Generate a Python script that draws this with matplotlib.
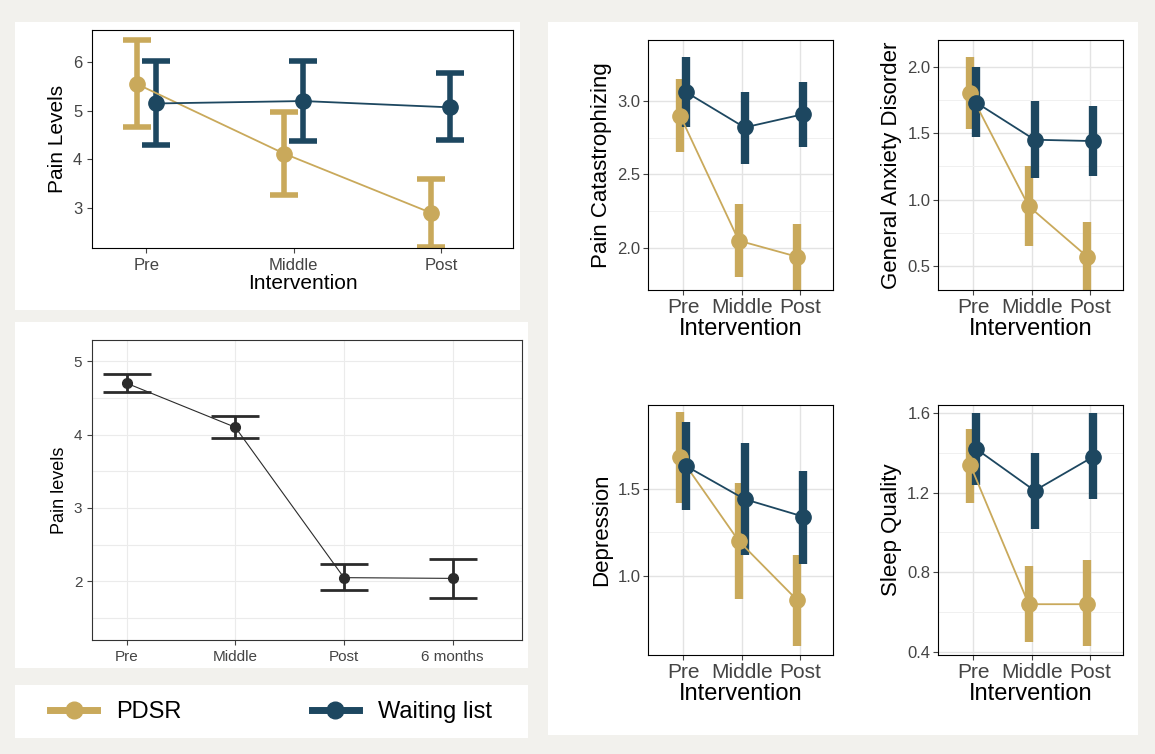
import matplotlib.pyplot as plt
from matplotlib.patches import Rectangle
from matplotlib.lines import Line2D

plt.rcParams['font.family'] = ['Liberation Sans', 'DejaVu Sans']

W, H = 1155, 754
GOLD = '#c9a95b'
NAVY = '#1d4760'

stages = ['Pre', 'Middle', 'Post']

# panel A: pain levels (mean, low, high)
painA_pdsr = [5.55, 4.12, 2.90]
painA_pdsr_lo = [4.67, 3.27, 2.20]
painA_pdsr_hi = [6.45, 4.97, 3.60]
painA_wl = [5.15, 5.20, 5.07]
painA_wl_lo = [4.30, 4.38, 4.40]
painA_wl_hi = [6.03, 6.03, 5.77]

# panel B: pain levels over time
stagesB = ['Pre', 'Middle', 'Post', '6 months']
painB = [4.70, 4.10, 2.05, 2.04]
painB_lo = [4.58, 3.95, 1.88, 1.77]
painB_hi = [4.82, 4.25, 2.24, 2.31]

# right panels
cat_pdsr = [2.90, 2.05, 1.94]; cat_pdsr_lo = [2.65, 1.80, 1.71]; cat_pdsr_hi = [3.15, 2.30, 2.16]
cat_wl = [3.06, 2.82, 2.91]; cat_wl_lo = [2.82, 2.57, 2.69]; cat_wl_hi = [3.30, 3.06, 3.13]
gad_pdsr = [1.80, 0.95, 0.57]; gad_pdsr_lo = [1.53, 0.65, 0.31]; gad_pdsr_hi = [2.07, 1.25, 0.83]
gad_wl = [1.73, 1.45, 1.44]; gad_wl_lo = [1.47, 1.16, 1.18]; gad_wl_hi = [2.00, 1.74, 1.70]
dep_pdsr = [1.68, 1.20, 0.86]; dep_pdsr_lo = [1.42, 0.87, 0.60]; dep_pdsr_hi = [1.94, 1.53, 1.12]
dep_wl = [1.63, 1.44, 1.34]; dep_wl_lo = [1.38, 1.12, 1.07]; dep_wl_hi = [1.88, 1.76, 1.60]
slp_pdsr = [1.34, 0.64, 0.64]; slp_pdsr_lo = [1.15, 0.45, 0.43]; slp_pdsr_hi = [1.52, 0.83, 0.86]
slp_wl = [1.42, 1.21, 1.38]; slp_wl_lo = [1.24, 1.02, 1.17]; slp_wl_hi = [1.60, 1.40, 1.60]

fig = plt.figure(figsize=(W / 100, H / 100), dpi=100)
fig.patch.set_facecolor('#f2f1ed')


def box(x0, y0, x1, y1):
    fig.patches.append(Rectangle((x0 / W, 1 - y1 / H), (x1 - x0) / W, (y1 - y0) / H,
                                 transform=fig.transFigure, facecolor='white',
                                 edgecolor='none', zorder=-1))


def axes_px(x0, y0, x1, y1):
    return fig.add_axes([x0 / W, 1 - y1 / H, (x1 - x0) / W, (y1 - y0) / H])


def err(m, lo, hi):
    return [[a - b for a, b in zip(m, lo)], [c - a for a, c in zip(m, hi)]]


box(15, 22, 520, 310)
box(15, 322, 528, 668)
box(15, 685, 528, 738)
box(548, 22, 1138, 735)

# ---- panel A
ax = axes_px(92, 30, 513, 248)
x = [1, 2, 3]
d = 0.065
for m, lo, hi, c, off in [(painA_pdsr, painA_pdsr_lo, painA_pdsr_hi, GOLD, -d),
                          (painA_wl, painA_wl_lo, painA_wl_hi, NAVY, d)]:
    xs = [v + off for v in x]
    ax.errorbar(xs, m, yerr=err(m, lo, hi), color=c, lw=1.3, marker='o', ms=11,
                elinewidth=4, capsize=10, capthick=4)
ax.set_xlim(0.63, 3.49)
ax.set_ylim(2.18, 6.66)
ax.set_yticks([3, 4, 5, 6])
ax.set_xticks(x)
ax.set_xticklabels(stages)
ax.set_xlabel('Intervention', fontsize=15, labelpad=1)
ax.set_ylabel('Pain Levels', fontsize=15)
ax.tick_params(labelsize=12, colors='#444444')

# ---- panel B
ax = axes_px(92, 340, 522, 640)
xb = [1, 2, 3, 4]
ax.errorbar(xb, painB, yerr=err(painB, painB_lo, painB_hi), color='#2b2b2b', lw=0.8,
            marker='o', ms=7, elinewidth=2, capsize=17, capthick=2)
ax.set_xlim(0.68, 4.64)
ax.set_ylim(1.2, 5.29)
ax.set_yticks([2, 3, 4, 5])
ax.set_yticks([1.5, 2.5, 3.5, 4.5], minor=True)
ax.set_xticks(xb)
ax.set_xticklabels(stagesB)
ax.grid(True, which='both', color='#ebebeb', lw=0.8)
ax.tick_params(which='minor', length=0)
ax.tick_params(labelsize=11, colors='#444444')
ax.set_ylabel('Pain levels', fontsize=13)
for s in ax.spines.values():
    s.set_color('#333333')
    s.set_linewidth(0.8)

# ---- right panels
panels = [
    ((648, 40, 833, 290), 'Pain Catastrophizing', cat_pdsr, cat_pdsr_lo, cat_pdsr_hi,
     cat_wl, cat_wl_lo, cat_wl_hi, (1.714, 3.415), [2.0, 2.5, 3.0]),
    ((938, 40, 1123, 290), 'General Anxiety Disorder', gad_pdsr, gad_pdsr_lo, gad_pdsr_hi,
     gad_wl, gad_wl_lo, gad_wl_hi, (0.32, 2.2), [0.5, 1.0, 1.5, 2.0]),
    ((648, 405, 833, 655), 'Depression', dep_pdsr, dep_pdsr_lo, dep_pdsr_hi,
     dep_wl, dep_wl_lo, dep_wl_hi, (0.546, 1.98), [1.0, 1.5]),
    ((938, 405, 1123, 655), 'Sleep Quality', slp_pdsr, slp_pdsr_lo, slp_pdsr_hi,
     slp_wl, slp_wl_lo, slp_wl_hi, (0.385, 1.64), [0.4, 0.8, 1.2, 1.6]),
]
for pos, lab, pm, pl, ph, wm, wl_, wh, ylim, ticks in panels:
    ax = axes_px(*pos)
    for m, lo, hi, c, off in [(pm, pl, ph, GOLD, -0.05), (wm, wl_, wh, NAVY, 0.05)]:
        xs = [v + off for v in x]
        ax.errorbar(xs, m, yerr=err(m, lo, hi), color=c, lw=1.3, marker='o', ms=11,
                    elinewidth=6, capsize=0)
    ax.set_xlim(0.4, 3.56)
    ax.set_ylim(*ylim)
    ax.set_yticks(ticks)
    ax.set_yticklabels(['%.1f' % t for t in ticks])
    mids = [(a + b) / 2 for a, b in zip(ticks[:-1], ticks[1:])]
    ax.set_yticks(mids, minor=True)
    ax.set_xticks(x)
    ax.set_xticklabels(stages)
    ax.grid(True, which='major', color='#e3e3e3', lw=1)
    ax.grid(True, which='minor', axis='y', color='#f0f0f0', lw=0.7)
    ax.tick_params(which='minor', length=0)
    ax.tick_params(labelsize=12, colors='#444444', pad=2)
    ax.tick_params(axis='x', labelsize=15)
    ax.set_axisbelow(True)
    ax.set_xlabel('Intervention', fontsize=17, labelpad=1)
    ax.set_ylabel(lab, fontsize=16)

# ---- legend
lg = [Line2D([0], [0], color=GOLD, marker='o', ms=12, lw=5),
      Line2D([0], [0], color=NAVY, marker='o', ms=12, lw=5)]
fig.legend(lg, ['PDSR', 'Waiting list'], loc='center', ncol=2, frameon=False,
           bbox_to_anchor=(271 / W, 1 - 712 / H), fontsize=17, columnspacing=5.5,
           handlelength=2)

fig.savefig('out.png', dpi=100, facecolor=fig.get_facecolor())
